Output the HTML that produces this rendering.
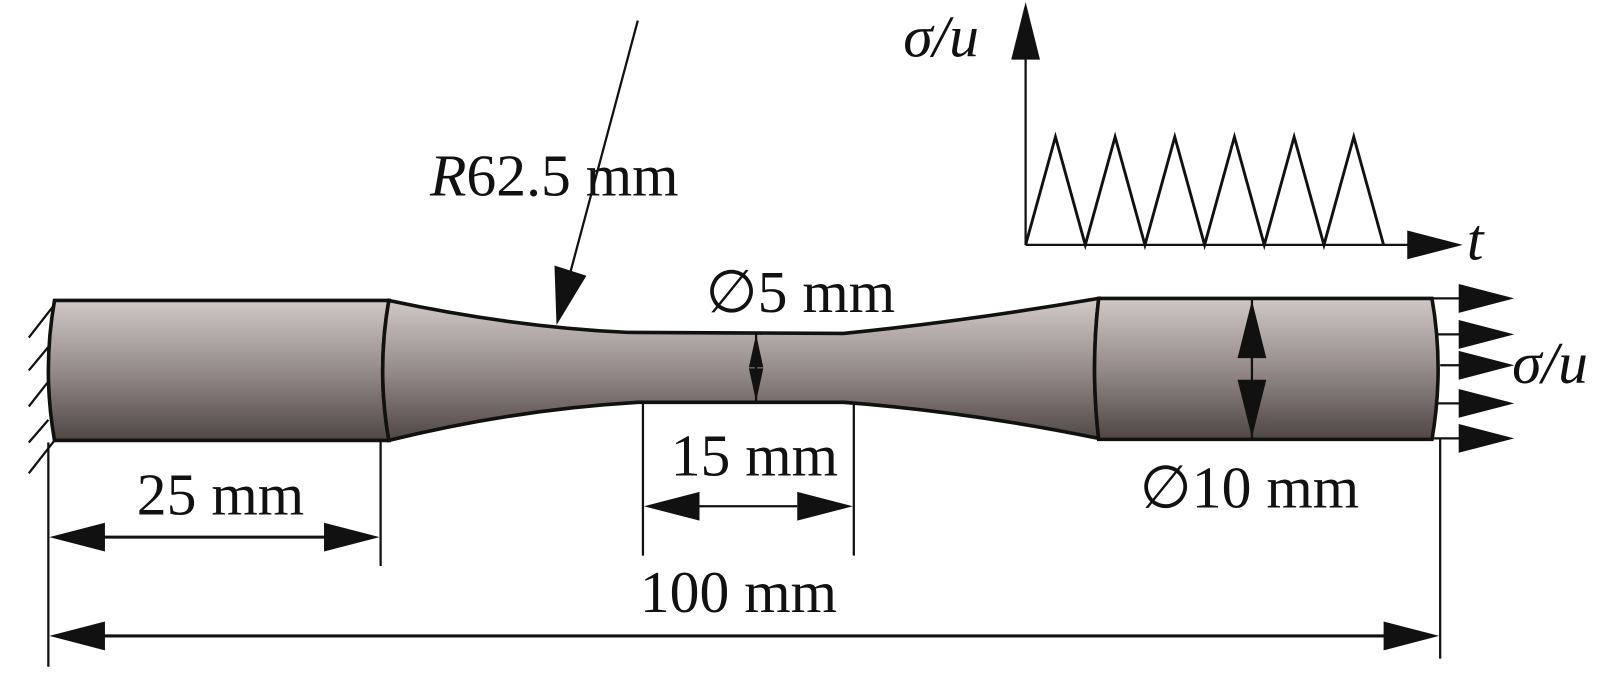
<!DOCTYPE html>
<html><head><meta charset="utf-8"><style>
html,body{margin:0;padding:0;background:#fff;}
svg{display:block;}
text{font-family:"Liberation Serif",serif;fill:#111;font-size:58px;}
</style></head><body>
<svg width="1613" height="674" viewBox="0 0 1568 655" preserveAspectRatio="none" xmlns="http://www.w3.org/2000/svg">
<defs>
<linearGradient id="g" x1="0" y1="0" x2="0" y2="1">
<stop offset="0" stop-color="#cfc8c5"/>
<stop offset="0.5" stop-color="#958c89"/>
<stop offset="1" stop-color="#4f4744"/>
</linearGradient>
<linearGradient id="g2" x1="0" y1="0" x2="0" y2="1">
<stop offset="0" stop-color="#d2cbc8"/>
<stop offset="0.5" stop-color="#968d8a"/>
<stop offset="1" stop-color="#4f4744"/>
</linearGradient>
</defs>
<g stroke="#111" stroke-width="3.5">
<path d="M53 292 L378 292 Q366 360 378 428 L53 428 Q41 360 53 292 Z" fill="url(#g)"/>
<path d="M378 292 Q500 318 610 323 L820 324 Q940 312 1068 290 Q1060 358 1068 426 Q940 400 820 391 L620 391 Q500 398 378 428 Q366 360 378 292 Z" fill="url(#g2)"/>
<path d="M1068 290 L1392 290 Q1404 358 1392 427 L1068 427 Q1060 358 1068 290 Z" fill="url(#g)"/>
</g>
<g stroke="#111" stroke-width="2.2" fill="none">
<line x1="53" y1="296" x2="28" y2="328"/>
<line x1="48" y1="336" x2="28" y2="360"/>
<line x1="46" y1="372" x2="28" y2="395"/>
<line x1="47" y1="408" x2="28" y2="430"/>
<line x1="53" y1="428" x2="28" y2="460"/>
<line x1="47" y1="430" x2="47" y2="648"/>
<line x1="370" y1="428" x2="370" y2="550"/>
<line x1="625" y1="391" x2="625" y2="540"/>
<line x1="830" y1="391" x2="830" y2="540"/>
<line x1="1400" y1="427" x2="1400" y2="640"/>
<line x1="100" y1="522" x2="320" y2="522" stroke-width="3"/>
<line x1="680" y1="492" x2="775" y2="492"/>
<line x1="100" y1="618" x2="1350" y2="618" stroke-width="3"/>
<line x1="620" y1="20" x2="553" y2="270"/>
<line x1="735" y1="324" x2="735" y2="391"/>
<line x1="1217" y1="291" x2="1217" y2="426"/>
<line x1="1392" y1="290" x2="1420" y2="290"/>
<line x1="1398" y1="325" x2="1420" y2="325"/>
<line x1="1400" y1="355" x2="1420" y2="355"/>
<line x1="1398" y1="392" x2="1420" y2="392"/>
<line x1="1392" y1="426" x2="1420" y2="426"/>
<line x1="997" y1="50" x2="997" y2="238"/>
<line x1="997" y1="238" x2="1372" y2="238"/>
<polyline points="997,238 1026,133 1055,238 1084,133 1113,238 1142,133 1171,238 1200,133 1229,238 1258,133 1287,238 1316,133 1345,238" stroke-width="2.8" stroke-linejoin="miter"/>
</g>
<g fill="#111">
<polygon points="48,522 102,508 102,536"/>
<polygon points="369,522 315,508 315,536"/>
<polygon points="626,492 680,478 680,506"/>
<polygon points="829,492 775,478 775,506"/>
<polygon points="48,618 102,604 102,632"/>
<polygon points="1399,618 1345,604 1345,632"/>
<polygon points="541,316 539,258 570,268"/>
<polygon points="735,325 728,357 742,357"/>
<polygon points="735,390 728,358 742,358"/>
<polygon points="1217,292 1203,348 1231,348"/>
<polygon points="1217,425 1203,369 1231,369"/>
<polygon points="1472,290 1418,276 1418,304"/>
<polygon points="1472,325 1418,311 1418,339"/>
<polygon points="1472,355 1418,341 1418,369"/>
<polygon points="1472,392 1418,378 1418,406"/>
<polygon points="1472,426 1418,412 1418,440"/>
<polygon points="997,2 983,58 1011,58"/>
<polygon points="1422,238 1368,224 1368,252"/>
</g>
<text x="418" y="190"><tspan font-style="italic">R</tspan>62.5 mm</text>
<text x="133" y="500">25 mm</text>
<text x="652" y="462">15 mm</text>
<text x="622" y="595">100 mm</text>
<text x="686" y="303">∅5 mm</text>
<text x="1108" y="493">∅10 mm</text>
<text x="1470" y="372" font-style="italic">σ/u</text>
<text x="878" y="55" font-style="italic">σ/u</text>
<text x="1426" y="252" font-style="italic">t</text>
</svg>
</body></html>
